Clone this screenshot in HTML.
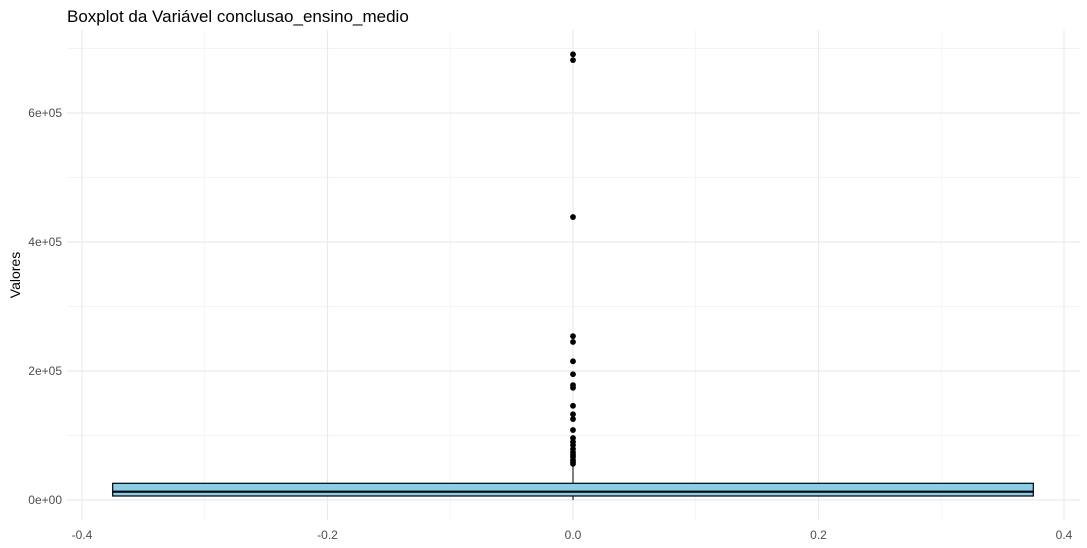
<!DOCTYPE html>
<html><head><meta charset="utf-8"><style>
body{margin:0;background:#fff;font-family:"Liberation Sans",Arial,sans-serif}
svg{display:block}
</style></head><body>
<svg id="chart" width="1087" height="548">
<text x="67" y="22" font-size="17" fill="#000">Boxplot da Variável conclusao_ensino_medio</text>
<text transform="translate(20,275) rotate(-90)" text-anchor="middle" font-size="14" fill="#000">Valores</text>
<g id="grid"></g><g id="ticks"></g><g id="marks"></g>
</svg>
<script>
const yTicks=[0,200000,400000,600000];
const yTickLabels=["0e+00","2e+05","4e+05","6e+05"];
const yMinor=[100000,300000,500000,700000];
const xTicks=[-0.4,-0.2,0.0,0.2,0.4];
const xTickLabels=["-0.4","-0.2","0.0","0.2","0.4"];
const xMinor=[-0.3,-0.1,0.1,0.3];
const boxStats=[0,6200,12900,25900,52000]; // min,q1,median,q3,max whisker
const boxWidth=[-0.375,0.375];
const outliers=[691000,682000,438700,254000,245000,215000,195000,178000,174000,146000,133000,125500,108500,96000,90000,85000,79000,74000,70000,66600,62000,59000,56000];
const L=67,R=1080,T=30,B=520;
const sx=v=>573+(v/0.2)*245.5;
const sy=v=>500-v/200000*129;
const NS="http://www.w3.org/2000/svg";
function mk(p,t,a){const e=document.createElementNS(NS,t);for(const k in a)e.setAttribute(k,a[k]);p.appendChild(e);return e;}
const g=document.getElementById('grid'),tk=document.getElementById('ticks'),m=document.getElementById('marks');
yMinor.forEach(v=>{const e=mk(g,'line',{x1:L,x2:R,y1:sy(v),y2:sy(v),stroke:'#f0f0f0','stroke-width':0.7});

});
xMinor.forEach(v=>{const e=mk(g,'line',{x1:sx(v),x2:sx(v),y1:T,y2:B,stroke:'#f0f0f0','stroke-width':0.7});

});
yTicks.forEach((v,i)=>{const e=mk(g,'line',{x1:L,x2:R,y1:sy(v),y2:sy(v),stroke:'#ebebeb','stroke-width':1.2});


const t=mk(tk,'text',{x:62,y:sy(v)+4,'text-anchor':'end','font-size':12,fill:'#4d4d4d'});t.textContent=yTickLabels[i];

});
xTicks.forEach((v,i)=>{const e=mk(g,'line',{x1:sx(v),x2:sx(v),y1:T,y2:B,stroke:'#ebebeb','stroke-width':1.2});


const t=mk(tk,'text',{x:sx(v),y:539,'text-anchor':'middle','font-size':12,fill:'#4d4d4d'});t.textContent=xTickLabels[i];

});
const cx=sx(0);
const w=mk(m,'line',{x1:cx,x2:cx,y1:sy(boxStats[3]),y2:sy(boxStats[4]),stroke:'#000','stroke-width':1});


const w2=mk(m,'line',{x1:cx,x2:cx,y1:sy(boxStats[1]),y2:sy(boxStats[0]),stroke:'#000','stroke-width':1});


const bx=mk(m,'rect',{x:sx(boxWidth[0]),y:sy(boxStats[3]),width:sx(boxWidth[1])-sx(boxWidth[0]),height:sy(boxStats[1])-sy(boxStats[3]),fill:'#87ceeb',stroke:'#000','stroke-width':1.2});


const md=mk(m,'line',{x1:sx(boxWidth[0]),x2:sx(boxWidth[1]),y1:sy(boxStats[2]),y2:sy(boxStats[2]),stroke:'#000','stroke-width':2.2});


outliers.forEach(v=>{const c=mk(m,'circle',{cx:cx,cy:sy(v),r:2.9,fill:'#000'});

});
</script>
</body></html>
